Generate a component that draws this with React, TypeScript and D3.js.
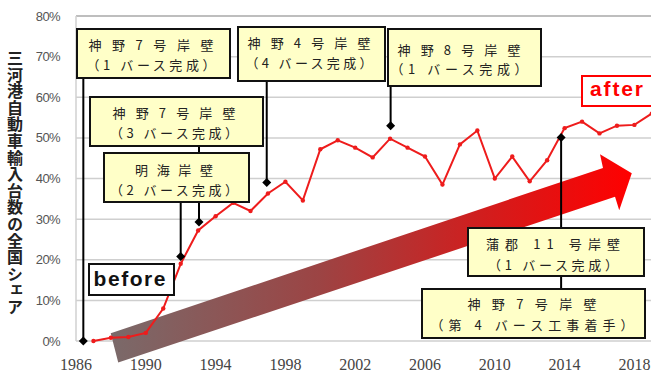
import React from 'react';
import * as d3 from 'd3';

// ---------- data ----------
const years = [1987, 1988, 1989, 1990, 1991, 1992, 1993, 1994, 1995, 1996, 1997, 1998, 1999, 2000, 2001, 2002, 2003, 2004, 2005, 2006, 2007, 2008, 2009, 2010, 2011, 2012, 2013, 2014, 2015, 2016, 2017, 2018, 2019];
const shares = [0.0, 0.8, 1.0, 2.0, 8.0, 19.0, 27.2, 30.7, 34.0, 32.0, 36.3, 39.2, 34.6, 47.2, 49.4, 47.6, 45.2, 49.8, 47.6, 45.4, 38.5, 48.4, 51.8, 40.0, 45.4, 39.3, 44.5, 52.4, 54.0, 51.1, 53.0, 53.2, 56.0];
const yTicks = [0, 10, 20, 30, 40, 50, 60, 70, 80];
const xTicks = [1986, 1990, 1994, 1998, 2002, 2006, 2010, 2014, 2018];
const yTitle = '三河港自動車輸入台数の全国シェア';

// annotation anchors (year, share %) and texts
const annoYears = [1986.42, 1996.93, 2004.03, 1993.05, 1992.0, 2013.8];
const annoValues = [0, 39.0, 53.0, 29.3, 20.8, 50.1];
const annoTexts = [
  ['神野7号岸壁', '（1 バース完成）'],
  ['神野4号岸壁', '（4 バース完成）'],
  ['神野8号岸壁', '（1 バース完成）'],
  ['神野7号岸壁', '（3 バース完成）'],
  ['明海岸壁', '（2 バース完成）'],
  ['蒲郡 11 号岸壁', '（1 バース完成）'],
];
const extraTexts = ['神野7号岸壁', '（第 4 バース工事着手）'];

// arrow outline in data units (year, %)
const arrowYears = [1987.99, 2016.2, 2016.03, 2017.85, 2017.13, 2016.89, 1988.42];
const arrowValues = [1.9, 42.6, 46.0, 41.3, 32.2, 35.5, -5.3];

// ---------- layout ----------
const W = 651;
const H = 376;
const x = d3.scaleLinear().domain([1986, 2019]).range([76, 76 + 33 * 17.45]);
const y = d3.scaleLinear().domain([0, 80]).range([341, 16]);

// box layouts: x, y, w, h, text centre x, line baselines, line widths
const boxes = [
  { x: 77, y: 29, w: 153, h: 49, cx: 151, ly: [50, 70], lw: [125, 129], below: false },
  { x: 238, y: 27, w: 147, h: 54, cx: 309, ly: [48, 68], lw: [123, 127], below: false },
  { x: 388, y: 29, w: 153, h: 57, cx: 459, ly: [55, 74], lw: [123, 137], below: false },
  { x: 90, y: 97, w: 173, h: 49, cx: 174, ly: [118, 138], lw: [123, 128], below: false },
  { x: 104, y: 153, w: 145, h: 49, cx: 174, ly: [175, 195], lw: [78, 128], below: false },
  { x: 468, y: 228, w: 176, h: 48, cx: 553, ly: [249, 270], lw: [134, 130], below: true },
];
const extraBox = { x: 422, y: 289, w: 223, h: 49, cx: 532, ly: [309, 330], lw: [129, 203] };

const jpFont = '"Noto Sans CJK JP", "Noto Sans", sans-serif';

export default function App() {
  const line = d3
    .line<number>()
    .x((_, i) => x(years[i]))
    .y((d) => y(d));
  const arrowPts = arrowYears.map((yr, i) => [x(yr), y(arrowValues[i])] as [number, number]);
  const arrowPath = d3.line()(arrowPts) + 'Z';

  const anchors = annoYears.map((yr, i) => ({ px: x(yr), py: y(annoValues[i]) }));

  const renderBox = (b: any, texts: string[], key: string) => (
    <g key={key}>
      <rect x={b.x} y={b.y} width={b.w} height={b.h} fill="#ffffc8" stroke="#111" strokeWidth={2} />
      {texts.map((t, j) => (
        <text
          key={j}
          x={b.cx}
          y={b.ly[j]}
          textAnchor="middle"
          fontFamily={jpFont}
          fontSize={13}
          fill="#222"
          textLength={b.lw[j]}
          lengthAdjust="spacing"
        >
          {t}
        </text>
      ))}
    </g>
  );

  const diamond = (px: number, py: number, key: string) => (
    <path key={key} d={`M${px},${py - 4.5}L${px + 4.5},${py}L${px},${py + 4.5}L${px - 4.5},${py}Z`} fill="#000" />
  );

  return (
    <svg width={W} height={H} style={{ position: 'absolute', left: 0, top: 0, background: '#fff' }}>
      <defs>
        <linearGradient id="arrowGrad" gradientUnits="userSpaceOnUse" x1={110} y1={0} x2={632} y2={0}>
          <stop offset="0" stopColor="#7a6a6a" />
          <stop offset="0.4" stopColor="#9c4444" />
          <stop offset="0.7" stopColor="#cf1f1f" />
          <stop offset="1" stopColor="#ff0000" />
        </linearGradient>
      </defs>
      <rect x={0} y={0} width={W} height={H} fill="#fff" />

      {/* gridlines */}
      {yTicks.map((t) => (
        <line
          key={t}
          x1={x(1986)}
          x2={W}
          y1={y(t)}
          y2={y(t)}
          stroke={t === 80 ? '#a8a8a8' : '#cfcfcf'}
          strokeWidth={1.5}
        />
      ))}
      <line x1={x(1986)} x2={x(1986)} y1={y(80)} y2={y(0)} stroke="#d0d0d0" strokeWidth={1.5} />

      {/* y tick labels */}
      {yTicks.map((t) => (
        <text
          key={'yl' + t}
          x={60}
          y={y(t) + 4.5}
          textAnchor="end"
          fontFamily='"Liberation Sans", Arial, sans-serif'
          fontSize={13}
          letterSpacing={-0.6}
          fill="#555"
        >
          {t}%
        </text>
      ))}

      {/* x tick labels */}
      {xTicks.map((t) => (
        <text
          key={'xl' + t}
          x={x(t)}
          y={370}
          textAnchor="middle"
          fontFamily='"Liberation Serif", "DejaVu Serif", serif'
          fontSize={16}
          fill="#444"
        >
          {t}
        </text>
      ))}

      {/* y title */}
      <text
        x={15}
        y={50}
        style={{ writingMode: 'vertical-rl' } as any}
        fontFamily={jpFont}
        fontWeight="bold"
        fontSize={16}
        letterSpacing={0.6}
        fill="#222"
      >
        {yTitle}
      </text>

      {/* arrow */}
      <path d={arrowPath} fill="url(#arrowGrad)" />

      {/* data line */}
      <path d={line(shares) || ''} fill="none" stroke="#ee1c1c" strokeWidth={2} />
      {shares.map((v, i) => (
        <circle key={'p' + i} cx={x(years[i])} cy={y(v)} r={2.2} fill="#ee1c1c" />
      ))}

      {/* connectors */}
      {anchors.map((a, i) => {
        const b = boxes[i];
        const yEnd = b.below ? extraBox.y : b.y + b.h;
        return <line key={'c' + i} x1={a.px} x2={a.px} y1={a.py} y2={yEnd} stroke="#000" strokeWidth={2} />;
      })}
      {anchors.map((a, i) => diamond(a.px, a.py, 'd' + i))}

      {/* boxes */}
      {boxes.map((b, i) => renderBox(b, annoTexts[i], 'b' + i))}
      {renderBox(extraBox, extraTexts, 'bx')}

      {/* before / after */}
      <rect x={89} y={264} width={85} height={31} fill="#fff" stroke="#111" strokeWidth={2} />
      <text x={129.5} y={286} textAnchor="middle" fontFamily='"Liberation Sans", Arial, sans-serif' fontWeight="bold" fontSize={21} fill="#111" textLength={72} lengthAdjust="spacing">
        before
      </text>
      <rect x={582} y={76} width={76} height={30} fill="#fff" stroke="#ff0000" strokeWidth={2} />
      <text x={616.5} y={96} textAnchor="middle" fontFamily='"Liberation Sans", Arial, sans-serif' fontWeight="bold" fontSize={21} fill="#ff0000" textLength={53} lengthAdjust="spacing">
        after
      </text>
    </svg>
  );
}
